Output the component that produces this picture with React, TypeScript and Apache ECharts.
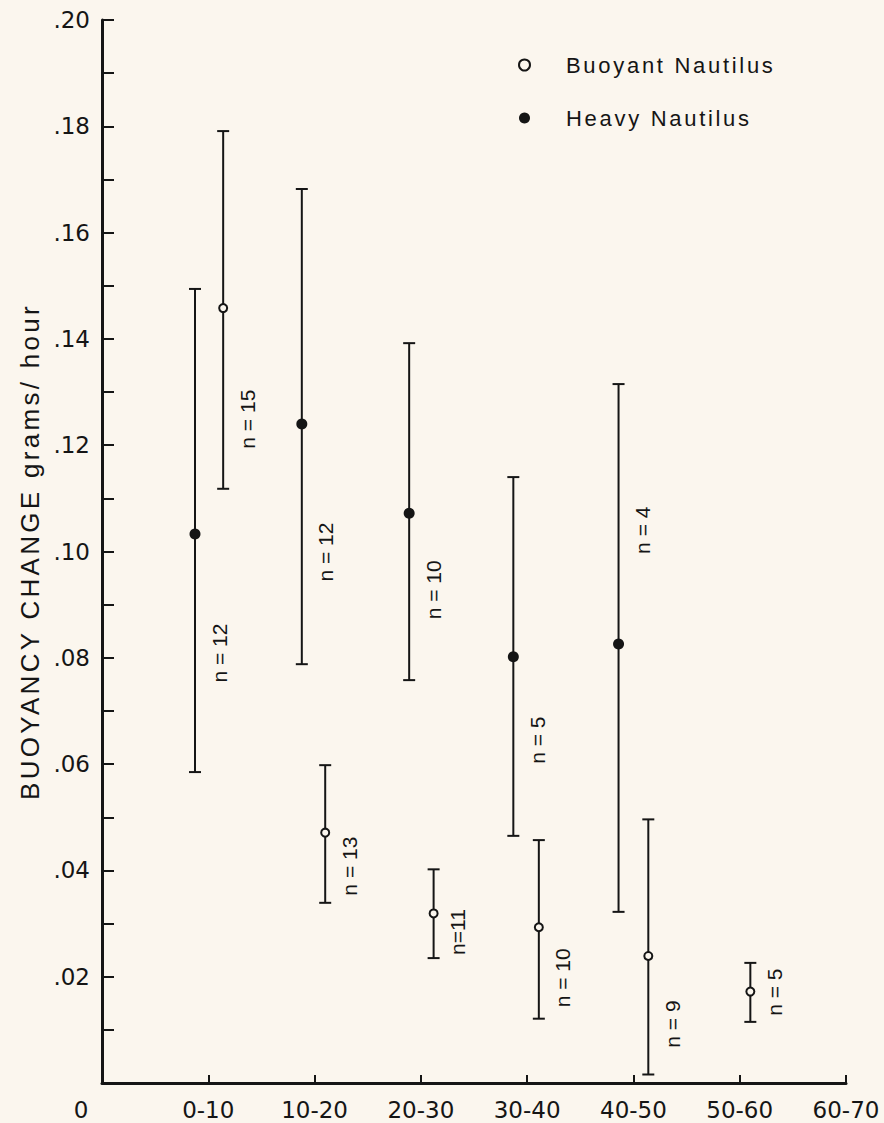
import React, { useEffect, useRef } from 'react';
import * as echarts from 'echarts';

// Age bins (x-axis categories)
const ageBins = ['0-10', '10-20', '20-30', '30-40', '40-50', '50-60', '60-70'];

// Buoyant Nautilus: position along age axis (bin units), mean, lower and upper bar ends
const buoyantX = [1.14, 2.1, 3.12, 4.11, 5.14, 6.1];
const buoyantMean = [0.1458, 0.0471, 0.0319, 0.0293, 0.0239, 0.0172];
const buoyantLow = [0.1118, 0.0339, 0.0235, 0.0121, 0.0016, 0.0115];
const buoyantHigh = [0.1791, 0.0598, 0.0402, 0.0457, 0.0496, 0.0226];
const buoyantN = ['n = 15', 'n = 13', 'n=11', 'n = 10', 'n = 9', 'n = 5'];
const buoyantNAt = [0.1249, 0.0408, 0.0284, 0.0198, 0.0111, 0.0171];

// Heavy Nautilus
const heavyX = [0.875, 1.88, 2.89, 3.87, 4.86];
const heavyMean = [0.1033, 0.124, 0.1072, 0.0802, 0.0826];
const heavyLow = [0.0585, 0.0788, 0.0758, 0.0465, 0.0322];
const heavyHigh = [0.1494, 0.1682, 0.1392, 0.114, 0.1315];
const heavyN = ['n = 12', 'n = 12', 'n = 10', 'n = 5', 'n = 4'];
const heavyNAt = [0.0809, 0.0999, 0.0928, 0.0645, 0.104];

const TITLE = 'BUOYANCY CHANGE grams/ hour';
const INK = '#151515';
const BG = '#fbf6ee';
const SANS = '"Liberation Sans", Arial, sans-serif';

function makeRender(labels: string[], filled: boolean) {
  return (params: any, api: any) => {
    const x = api.value(0);
    const pm = api.coord([x, api.value(1)]);
    const pl = api.coord([x, api.value(2)]);
    const ph = api.coord([x, api.value(3)]);
    const pt = api.coord([x, api.value(4)]);
    const cap = 6;
    const lineStyle = { stroke: INK, lineWidth: 2 };
    return {
      type: 'group',
      children: [
        { type: 'line', shape: { x1: pm[0], y1: ph[1], x2: pm[0], y2: pl[1] }, style: lineStyle },
        { type: 'line', shape: { x1: pm[0] - cap, y1: ph[1], x2: pm[0] + cap, y2: ph[1] }, style: lineStyle },
        { type: 'line', shape: { x1: pm[0] - cap, y1: pl[1], x2: pm[0] + cap, y2: pl[1] }, style: lineStyle },
        filled
          ? { type: 'circle', shape: { cx: pm[0], cy: pm[1], r: 5.5 }, style: { fill: INK } }
          : { type: 'circle', shape: { cx: pm[0], cy: pm[1], r: 4 }, style: { fill: BG, stroke: INK, lineWidth: 2 } },
        {
          type: 'text',
          x: pm[0] + 24,
          y: pt[1],
          rotation: Math.PI / 2,
          style: {
            text: labels[params.dataIndex],
            fill: INK,
            font: '21px "Liberation Sans", Arial, sans-serif',
            align: 'center',
            verticalAlign: 'middle',
          },
        },
      ],
    };
  };
}

export default function App() {
  const ref = useRef<HTMLDivElement>(null);
  useEffect(() => {
    if (!ref.current) return;
    const chart = echarts.init(ref.current, undefined, { renderer: 'svg' });
    const font = '"DejaVu Sans", sans-serif';
    const buoyantData = buoyantX.map((x, i) => [x, buoyantMean[i], buoyantLow[i], buoyantHigh[i], buoyantNAt[i]]);
    const heavyData = heavyX.map((x, i) => [x, heavyMean[i], heavyLow[i], heavyHigh[i], heavyNAt[i]]);
    chart.setOption({
      animation: false,
      backgroundColor: BG,
      grid: { left: 102, top: 20, right: 38, bottom: 40, containLabel: false },
      legend: {
        orient: 'vertical',
        left: 513,
        top: 48,
        itemWidth: 11,
        itemHeight: 11,
        itemGap: 29,
        selectedMode: false,
        textStyle: { color: INK, fontSize: 22, fontFamily: SANS, lineHeight: 24, padding: [0, 0, 0, 31] },
        data: [
          { name: 'Buoyant Nautilus', icon: 'circle', itemStyle: { color: BG, borderColor: INK, borderWidth: 2 } },
          { name: 'Heavy Nautilus', icon: 'circle', itemStyle: { color: INK, borderWidth: 0 } },
        ],
      },
      xAxis: {
        type: 'value',
        min: 0,
        max: 7,
        interval: 1,
        splitLine: { show: false },
        axisLine: { show: true, lineStyle: { color: INK, width: 3 } },
        axisTick: { show: true, inside: true, length: 8, lineStyle: { color: INK, width: 2 } },
        axisLabel: {
          color: INK,
          fontSize: 23,
          fontFamily: font,
          margin: 15,
          formatter: (v: number) => (v === 0 ? '{o|0}' : ageBins[Math.round(v) - 1]),
          rich: { o: { fontSize: 23, fontFamily: font, color: INK, padding: [0, 42, 0, 0] } },
        },
      },
      yAxis: {
        type: 'value',
        min: 0,
        max: 0.2,
        interval: 0.02,
        name: TITLE,
        nameLocation: 'middle',
        nameRotate: 90,
        nameGap: 52,
        nameTextStyle: { color: INK, fontSize: 26, fontFamily: SANS },
        splitLine: { show: false },
        axisLine: { show: true, lineStyle: { color: INK, width: 3 } },
        axisTick: { show: true, inside: true, length: 12, lineStyle: { color: INK, width: 2 } },
        minorTick: { show: true, splitNumber: 2, length: 12, lineStyle: { color: INK, width: 2 } },
        axisLabel: {
          color: INK,
          fontSize: 23,
          fontFamily: font,
          margin: 12,
          formatter: (v: number) => (v === 0 ? '' : v.toFixed(2).replace(/^0/, '')),
        },
      },
      series: [
        {
          name: 'Buoyant Nautilus',
          type: 'custom',
          renderItem: makeRender(buoyantN, false),
          encode: { x: 0, y: [1, 2, 3] },
          data: buoyantData,
          clip: false,
          z: 3,
        },
        {
          name: 'Heavy Nautilus',
          type: 'custom',
          renderItem: makeRender(heavyN, true),
          encode: { x: 0, y: [1, 2, 3] },
          data: heavyData,
          clip: false,
          z: 2,
        },
      ],
    });
    const applySpacing = () => {
      const root = ref.current;
      if (!root) return;
      root.querySelectorAll('text').forEach((t) => {
        const s = t.textContent || '';
        if (s === TITLE) t.setAttribute('letter-spacing', '3.3');
        if (s === 'Buoyant Nautilus' || s === 'Heavy Nautilus') t.setAttribute('letter-spacing', '2.7');
      });
    };
    applySpacing();
    chart.on('finished', applySpacing);
    const timer = setTimeout(applySpacing, 50);
    return () => {
      clearTimeout(timer);
      chart.dispose();
    };
  }, []);
  return <div ref={ref} style={{ position: 'absolute', left: 0, top: 0, width: 884, height: 1123 }} />;
}
